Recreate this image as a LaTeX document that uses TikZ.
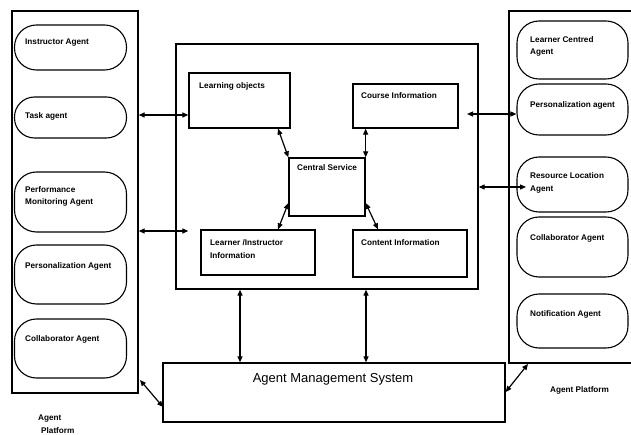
\documentclass[tikz,border=0pt]{standalone}
\usepackage{fontspec}
\setmainfont{Liberation Sans}
\usetikzlibrary{arrows.meta}
\begin{document}
\begin{tikzpicture}[x=1pt,y=-1pt,
  box/.style={draw,line width=1.3pt,inner sep=0pt},
  agent/.style={draw,line width=1.1pt,inner sep=0pt,rounded corners=22pt,
    minimum width=112pt},
  lbl/.style={inner sep=0pt,anchor=west,align=left,
    font=\bfseries\fontsize{8.2}{12.5}\selectfont},
  dbl/.style={line width=1.2pt,{Triangle[length=6pt,width=5pt]}-{Triangle[length=6pt,width=5pt]}}]
\clip (0,0) rectangle (631,435);
\fill[white] (0,0) rectangle (631,435);

% left agent platform
\node[box,minimum width=126pt,minimum height=382pt] (lp) at (75,202) {};
\node[agent,minimum height=45pt] (ia) at (70.5,47.5) {};
\node[agent,minimum height=41pt,rounded corners=20pt] (ta) at (70.5,117.5) {};
\node[agent,minimum height=60pt] (pm) at (70.5,202) {};
\node[agent,minimum height=59pt] (pl) at (70.5,274.5) {};
\node[agent,minimum height=59pt] (ca) at (70.5,348.5) {};
\node[lbl] (ia-t) at (25,43) {Instructor Agent};
\node[lbl] (ta-t) at (25,116) {Task agent};
\node[lbl] (pm-t) at (25,196.5) {Performance\\Monitoring Agent};
\node[lbl] (pl-t) at (25,266) {Personalization Agent};
\node[lbl] (ca-t) at (25,339) {Collaborator Agent};
\node[lbl] (lp-t) at (38,424) {Agent\\\hspace{3pt}Platform};

% right agent platform
\node[box,minimum width=131pt,minimum height=352pt] (rp) at (574.5,187) {};
\node[agent,minimum width=111pt,minimum height=58pt] (lc) at (572.5,50) {};
\node[agent,minimum width=111pt,minimum height=51pt] (pa) at (572.5,109.5) {};
\node[agent,minimum width=111pt,minimum height=55pt] (rl) at (572.5,184.5) {};
\node[agent,minimum width=111pt,minimum height=60pt] (cr) at (572.5,247) {};
\node[agent,minimum width=111pt,minimum height=54pt] (na) at (572.5,321) {};
\node[lbl] (lc-t) at (530,46.5) {Learner Centred\\Agent};
\node[lbl] (pa-t) at (530,105) {Personalization agent};
\node[lbl] (rl-t) at (530,183) {Resource Location\\Agent};
\node[lbl] (cr-t) at (530,238) {Collaborator Agent};
\node[lbl] (na-t) at (530,314) {Notification Agent};
\node[lbl] (rp-t) at (550,390) {Agent Platform};

% central services
\node[box,minimum width=302pt,minimum height=245pt] (cb) at (327,166.5) {};
\node[box,minimum width=101pt,minimum height=55pt] (lo) at (239.5,100.5) {};
\node[box,minimum width=105pt,minimum height=44pt] (ci) at (405.5,106) {};
\node[box,minimum width=76pt,minimum height=58pt] (cs) at (327,187) {};
\node[box,minimum width=114pt,minimum height=45pt] (li) at (258,252.5) {};
\node[box,minimum width=114pt,minimum height=47pt] (cn) at (410,253.5) {};
\node[lbl] (lo-t) at (199,86) {Learning objects};
\node[lbl] (ci-t) at (361,96) {Course Information};
\node[lbl] (cs-t) at (297,168) {Central Service};
\node[lbl] (li-t) at (210,249) {Learner /Instructor\\Information};
\node[lbl] (cn-t) at (361,243) {Content Information};

% agent management system
\node[box,minimum width=342pt,minimum height=59pt] (ams) at (334,392.5) {};
\node[inner sep=0pt,font=\fontsize{13}{15}\selectfont] (ams-t) at (333,379) {Agent Management System};

% connector end points
\coordinate (r1) at (467,114);
\coordinate (r2) at (526,187);
\coordinate (d1) at (140,380);
\coordinate (d2) at (163,407);
\coordinate (d3) at (528,364);

% connectors
\draw[dbl] (lp.east |- 0,115) -- (lo.west |- 0,115);
\draw[dbl] (lp.east |- 0,231) -- (lo.west |- 0,231);
\draw[dbl] (r1) -- (pa.west |- r1);
\draw[dbl] (cb.east |- r2) -- (r2);
\draw[dbl] (lo.south -| 278,0) -- (cs.north west);
\draw[dbl] (ci.south -| cs.east) -- (cs.north east);
\draw[dbl] (li.north -| 278,0) -- (cs.west |- 0,203);
\draw[dbl] (cs.east |- 0,203) -- (cn.north -| 378,0);
\draw[dbl] (cb.south -| 240,0) -- (ams.north -| 240,0);
\draw[dbl] (cb.south -| 366,0) -- (ams.north -| 366,0);
\draw[dbl] (d1) -- (d2);
\draw[dbl] (ams.east |- 0,392) -- (d3);
\end{tikzpicture}
\end{document}
